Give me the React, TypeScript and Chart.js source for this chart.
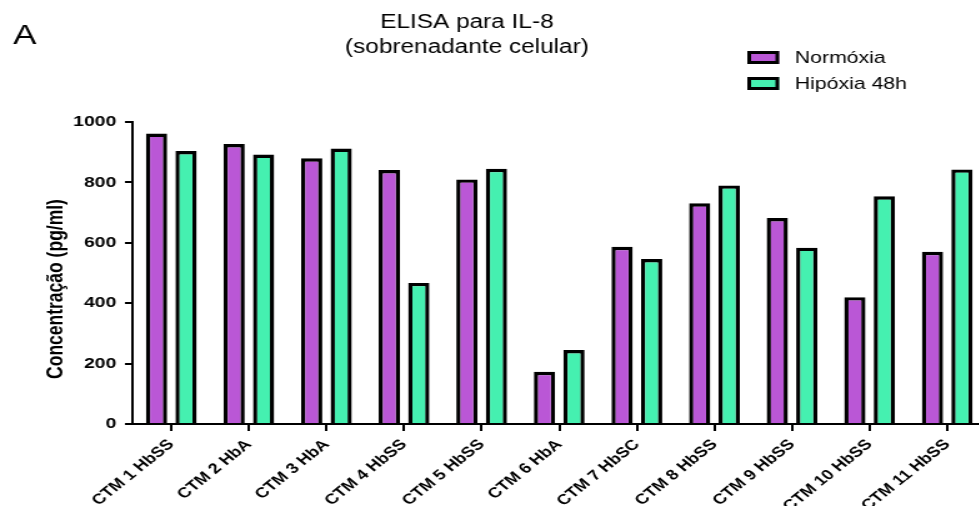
import React, { useEffect, useRef } from "react";
import { Chart, registerables } from "chart.js";

Chart.register(...registerables);

const categories = [
  "CTM 1 HbSS",
  "CTM 2 HbA",
  "CTM 3 HbA",
  "CTM 4 HbSS",
  "CTM 5 HbSS",
  "CTM 6 HbA",
  "CTM 7 HbSC",
  "CTM 8 HbSS",
  "CTM 9 HbSS",
  "CTM 10 HbSS",
  "CTM 11 HbSS",
];
const normoxia = [962, 927, 880, 841, 810, 173, 587, 731, 682, 420, 570];
const hipoxia48h = [904, 892, 912, 467, 845, 245, 546, 790, 584, 754, 843];
const seriesLabels = ["Normóxia", "Hipóxia 48h"];
const yTicks = [0, 200, 400, 600, 800, 1000];
const titleLines = ["ELISA para IL-8", "(sobrenadante celular)"];
const yAxisTitle = "Concentração (pg/ml)";
const panelLetter = "A";

const FONT = '"Liberation Sans", Arial, Helvetica, sans-serif';
const PURPLE = "#BA57D6";
const GREEN = "#45F0B0";
// the reference is horizontally stretched; draw at logical width and stretch via CSS
const STRETCH = 1.25;
const LOGICAL_W = 789;
const H = 506;

const overlay = {
  id: "overlay",
  afterDraw(chart: any) {
    const ctx = chart.ctx as CanvasRenderingContext2D;
    ctx.save();
    ctx.fillStyle = "#000";
    // panel letter
    ctx.textAlign = "left";
    ctx.textBaseline = "alphabetic";
    ctx.font = `28px ${FONT}`;
    ctx.fillText(panelLetter, 10.5, 43.5);
    // title
    ctx.textAlign = "center";
    ctx.font = `19.5px ${FONT}`;
    ctx.fillText(titleLines[0], 373.6, 28);
    ctx.fillText(titleLines[1], 373.6, 52.5);
    // legend
    chart.data.datasets.forEach((ds: any, i: number) => {
      const y = 51 + i * 26;
      ctx.fillStyle = ds.backgroundColor;
      ctx.fillRect(598, y, 25.5, 13);
      ctx.lineWidth = 3;
      ctx.strokeStyle = "#000";
      ctx.strokeRect(599.5, y + 1.5, 22.5, 10);
      ctx.fillStyle = "#000";
      ctx.font = `17px ${FONT}`;
      ctx.textAlign = "left";
      ctx.textBaseline = "middle";
      ctx.fillText(ds.label, 636, y + 7);
    });
    // y axis title
    ctx.translate(45.6, 289);
    ctx.rotate(-Math.PI / 2);
    ctx.font = `bold 17.5px ${FONT}`;
    ctx.textAlign = "center";
    ctx.textBaseline = "middle";
    ctx.fillText(yAxisTitle, 0, 0);
    ctx.restore();
  },
};

export default function App() {
  const canvasRef = useRef<HTMLCanvasElement | null>(null);

  useEffect(() => {
    if (!canvasRef.current) return;
    const chart = new Chart(canvasRef.current, {
      type: "bar",
      data: {
        labels: categories,
        datasets: [
          {
            label: seriesLabels[0],
            data: normoxia,
            backgroundColor: PURPLE,
            borderColor: "#000",
            borderWidth: 3.4,
          },
          {
            label: seriesLabels[1],
            data: hipoxia48h,
            backgroundColor: GREEN,
            borderColor: "#000",
            borderWidth: 3.4,
          },
        ],
      },
      options: {
        responsive: false,
        animation: false,
        devicePixelRatio: 1,
        layout: { padding: { top: 122, left: 0, right: 0, bottom: 0 } },
        plugins: {
          legend: { display: false },
          title: { display: false },
          tooltip: { enabled: false },
        },
        datasets: {
          bar: { categoryPercentage: 0.76, barPercentage: 0.72 },
        },
        scales: {
          x: {
            type: "category",
            offset: true,
            grid: {
              display: true,
              drawOnChartArea: false,
              drawTicks: true,
              tickLength: 7,
              color: "#000",
              lineWidth: 2,
              offset: false,
            },
            border: { display: true, color: "#000", width: 2 },
            ticks: {
              autoSkip: false,
              maxRotation: 45,
              minRotation: 45,
              color: "#000",
              padding: 5,
              font: { family: FONT, size: 14.5, weight: "bold" },
            },
            afterFit(s: any) {
              s.height = 82;
            },
          },
          y: {
            min: 0,
            max: 1000,
            ticks: {
              stepSize: 200,
              color: "#000",
              padding: 7,
              font: { family: FONT, size: 15.5, weight: "bold" },
              callback: (v: any) => String(v),
            },
            afterBuildTicks(s: any) {
              s.ticks = yTicks.map((v) => ({ value: v }));
            },
            grid: {
              display: true,
              drawOnChartArea: false,
              drawTicks: true,
              tickLength: 6,
              color: "#000",
              lineWidth: 2,
            },
            border: { display: true, color: "#000", width: 2 },
            afterFit(s: any) {
              s.width = 106;
            },
          },
        },
      } as any,
      plugins: [overlay],
    });
    return () => chart.destroy();
  }, []);

  return (
    <div
      style={{
        position: "absolute",
        left: 0,
        top: 0,
        width: 979,
        height: H,
        overflow: "hidden",
        background: "#fff",
      }}
    >
      <canvas
        ref={canvasRef}
        width={LOGICAL_W}
        height={H}
        style={{
          display: "block",
          width: `${LOGICAL_W * STRETCH}px`,
          height: `${H}px`,
        }}
      />
    </div>
  );
}
